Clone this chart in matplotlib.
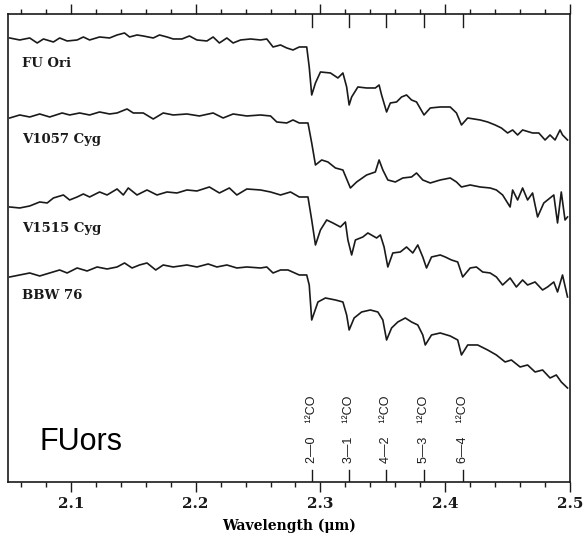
import matplotlib
matplotlib.use("Agg")
import matplotlib.pyplot as plt
from matplotlib.ticker import MultipleLocator

# Normalised K-band spectra of four FU Orionis objects (flux = 1 near 2.2 um)
fu_ori_wave = [2.051, 2.059, 2.067, 2.073, 2.078, 2.086, 2.091, 2.097, 2.105, 2.110,
               2.115, 2.123, 2.131, 2.137, 2.143, 2.147, 2.153, 2.158, 2.166, 2.171,
               2.177, 2.182, 2.189, 2.195, 2.201, 2.209, 2.214, 2.219, 2.225, 2.230,
               2.236, 2.244, 2.252, 2.257, 2.262, 2.268, 2.273, 2.278, 2.283, 2.289,
               2.291, 2.293, 2.296, 2.300, 2.308, 2.314, 2.318, 2.321, 2.323, 2.325,
               2.330, 2.337, 2.344, 2.347, 2.349, 2.353, 2.356, 2.361, 2.365, 2.369,
               2.373, 2.377, 2.383, 2.388, 2.396, 2.404, 2.409, 2.413, 2.418, 2.428,
               2.434, 2.440, 2.445, 2.450, 2.454, 2.458, 2.462, 2.470, 2.475, 2.480,
               2.484, 2.488, 2.492, 2.494, 2.498]
fu_ori_flux = [1.010, 1.000, 1.010, 0.985, 1.005, 0.990, 1.010, 0.995, 1.000, 1.015,
               1.000, 1.015, 1.010, 1.025, 1.035, 1.015, 1.025, 1.020, 1.010, 1.025,
               1.015, 1.005, 1.005, 1.020, 1.000, 0.995, 1.015, 0.985, 1.010, 0.985,
               1.000, 1.005, 1.000, 1.005, 0.965, 0.975, 0.960, 0.950, 0.965, 0.965,
               0.865, 0.725, 0.785, 0.840, 0.835, 0.810, 0.835, 0.765, 0.675, 0.715,
               0.765, 0.760, 0.760, 0.775, 0.725, 0.640, 0.685, 0.690, 0.715, 0.725,
               0.700, 0.690, 0.625, 0.660, 0.665, 0.665, 0.635, 0.575, 0.610, 0.600,
               0.590, 0.575, 0.560, 0.535, 0.550, 0.525, 0.550, 0.535, 0.535, 0.500,
               0.525, 0.500, 0.550, 0.525, 0.500]

v1057_wave = [2.051, 2.059, 2.067, 2.075, 2.083, 2.093, 2.099, 2.107, 2.115,
              2.123, 2.131, 2.137, 2.145, 2.150, 2.158, 2.166, 2.174, 2.182, 2.193,
              2.203, 2.214, 2.222, 2.230, 2.241, 2.252, 2.260, 2.265, 2.273, 2.278,
              2.283, 2.290, 2.293, 2.296, 2.301, 2.306, 2.312, 2.318, 2.324, 2.329,
              2.337, 2.344, 2.347, 2.350, 2.354, 2.360, 2.366, 2.373, 2.377, 2.382,
              2.388, 2.396, 2.404, 2.409, 2.413, 2.420, 2.428, 2.436, 2.441, 2.446,
              2.452, 2.454, 2.458, 2.462, 2.466, 2.470, 2.474, 2.479, 2.482, 2.487,
              2.490, 2.493, 2.496, 2.498]
v1057_flux = [0.985, 1.000, 0.990, 1.005, 0.990, 1.010, 1.000, 1.010, 1.000,
              1.015, 1.005, 1.010, 1.030, 1.010, 1.010, 0.980, 1.010, 1.000, 1.005,
              0.995, 1.010, 0.985, 1.005, 0.995, 1.000, 0.995, 0.965, 0.960, 0.975,
              0.960, 0.960, 0.860, 0.750, 0.775, 0.765, 0.735, 0.725, 0.635, 0.665,
              0.700, 0.715, 0.775, 0.725, 0.675, 0.665, 0.685, 0.690, 0.710, 0.675,
              0.660, 0.675, 0.685, 0.665, 0.640, 0.650, 0.640, 0.635, 0.625, 0.600,
              0.540, 0.625, 0.575, 0.635, 0.575, 0.610, 0.490, 0.560, 0.575, 0.600,
              0.460, 0.615, 0.475, 0.490]

v1515_wave = [2.051, 2.059, 2.067, 2.075, 2.081, 2.086, 2.094, 2.099, 2.105, 2.110,
              2.115, 2.123, 2.129, 2.137, 2.142, 2.146, 2.153, 2.161, 2.169, 2.177,
              2.185, 2.193, 2.201, 2.211, 2.219, 2.227, 2.233, 2.241, 2.252, 2.260,
              2.268, 2.276, 2.283, 2.290, 2.293, 2.296, 2.300, 2.305, 2.310, 2.316,
              2.320, 2.322, 2.325, 2.328, 2.334, 2.338, 2.345, 2.348, 2.351, 2.354,
              2.358, 2.364, 2.369, 2.374, 2.378, 2.382, 2.385, 2.389, 2.396, 2.400,
              2.405, 2.410, 2.414, 2.420, 2.425, 2.430, 2.436, 2.441, 2.446, 2.452,
              2.457, 2.462, 2.466, 2.472, 2.478, 2.482, 2.487, 2.490, 2.494, 2.498]
v1515_flux = [0.925, 0.920, 0.930, 0.950, 0.945, 0.970, 0.985, 0.960, 0.975, 0.990,
              0.975, 1.000, 0.985, 1.015, 0.985, 1.020, 0.985, 1.010, 0.985, 1.000,
              0.995, 1.010, 1.005, 1.025, 0.995, 1.020, 0.985, 1.015, 1.010, 1.000,
              0.985, 1.000, 0.975, 0.975, 0.860, 0.735, 0.810, 0.860, 0.845, 0.825,
              0.850, 0.760, 0.685, 0.760, 0.775, 0.795, 0.770, 0.785, 0.725, 0.625,
              0.695, 0.700, 0.725, 0.695, 0.735, 0.675, 0.620, 0.675, 0.685, 0.675,
              0.660, 0.650, 0.575, 0.620, 0.625, 0.600, 0.595, 0.575, 0.535, 0.570,
              0.525, 0.560, 0.535, 0.550, 0.510, 0.525, 0.550, 0.500, 0.585, 0.475]

bbw76_wave = [2.051, 2.059, 2.067, 2.075, 2.083, 2.091, 2.097, 2.105, 2.113, 2.121,
              2.129, 2.137, 2.143, 2.149, 2.155, 2.161, 2.168, 2.174, 2.182, 2.193,
              2.201, 2.210, 2.217, 2.225, 2.233, 2.241, 2.252, 2.257, 2.262, 2.268,
              2.274, 2.283, 2.289, 2.291, 2.293, 2.298, 2.304, 2.312, 2.318, 2.321,
              2.323, 2.327, 2.333, 2.340, 2.346, 2.350, 2.353, 2.357, 2.362, 2.368,
              2.373, 2.378, 2.382, 2.384, 2.389, 2.396, 2.404, 2.410, 2.413, 2.418,
              2.426, 2.434, 2.441, 2.448, 2.453, 2.460, 2.466, 2.472, 2.478, 2.484,
              2.489, 2.493, 2.498]
bbw76_flux = [0.950, 0.960, 0.970, 0.955, 0.970, 0.985, 0.970, 0.995, 0.980, 1.000,
              0.990, 1.000, 1.020, 0.995, 1.010, 1.020, 0.985, 1.010, 1.000, 1.010,
              1.000, 1.015, 1.000, 1.010, 0.995, 1.000, 0.995, 1.000, 0.970, 0.985,
              0.985, 0.960, 0.960, 0.910, 0.735, 0.825, 0.845, 0.835, 0.825, 0.760,
              0.685, 0.745, 0.775, 0.785, 0.775, 0.735, 0.635, 0.695, 0.725, 0.745,
              0.725, 0.710, 0.660, 0.610, 0.660, 0.670, 0.655, 0.635, 0.560, 0.610,
              0.610, 0.585, 0.560, 0.525, 0.535, 0.500, 0.510, 0.475, 0.485, 0.445,
              0.460, 0.425, 0.395]

names = ["FU Ori", "V1057 Cyg", "V1515 Cyg", "BBW 76"]
offsets = [1.21, 0.835, 0.45, 0.075]
label_y = [2.075, 1.695, 1.25, 0.915]

# 12CO first-overtone bandheads
co_wave = [2.2935, 2.3227, 2.3525, 2.3830, 2.4141]
co_bands = ["2\u20140", "3\u20141", "4\u20142", "5\u20143", "6\u20144"]

fig = plt.figure(figsize=(5.84, 5.44), dpi=100)
ax = fig.add_axes([0.01455, 0.1140, 0.9615, 0.8603])

spectra = [(fu_ori_wave, fu_ori_flux), (v1057_wave, v1057_flux),
           (v1515_wave, v1515_flux), (bbw76_wave, bbw76_flux)]
for (wave, flux), off, name, ly in zip(spectra, offsets, names, label_y):
    ax.plot(wave, [f + off for f in flux], color="#1a1a1a", lw=1.2)
    ax.text(2.0605, ly, name, fontsize=9.5, fontweight="bold",
            family="DejaVu Serif", color="#1a1a1a", va="baseline")

# bandhead markers on both the bottom and top axes
xt = ax.get_xaxis_transform()
for w, band in zip(co_wave, co_bands):
    ax.plot([w, w], [0.0, 0.026], transform=xt, color="#1a1a1a", lw=1.0)
    ax.plot([w, w], [1.0, 0.972], transform=xt, color="#1a1a1a", lw=1.0)
    ax.text(w, 0.040, band + "    \u00b9\u00b2CO", transform=xt, rotation=90,
            ha="center", va="bottom", fontsize=9, family="Liberation Sans",
            color="#1a1a1a")

ax.text(0.056, 0.068, "FUors", transform=ax.transAxes, fontsize=22,
        family="Liberation Sans", color="black", va="baseline")

ax.set_xlim(2.05, 2.5)
ax.set_ylim(0, 2.34)
ax.set_yticks([])
ax.xaxis.set_major_locator(MultipleLocator(0.1))
ax.xaxis.set_minor_locator(MultipleLocator(0.02))
ax.tick_params(axis="x", which="both", direction="out", top=True, bottom=True,
               width=1.0, colors="#1a1a1a", labelsize=11, pad=4)
ax.tick_params(axis="x", which="major", length=7)
ax.tick_params(axis="x", which="minor", length=3.5)
for lab in ax.get_xticklabels():
    lab.set_family("DejaVu Serif")
    lab.set_fontweight("bold")
for sp in ax.spines.values():
    sp.set_linewidth(1.2)
    sp.set_color("#1a1a1a")

ax.set_xlabel("Wavelength (\u03bcm)", fontsize=10, fontweight="bold",
              family="DejaVu Serif", labelpad=5)

fig.savefig("out.png", dpi=100)
